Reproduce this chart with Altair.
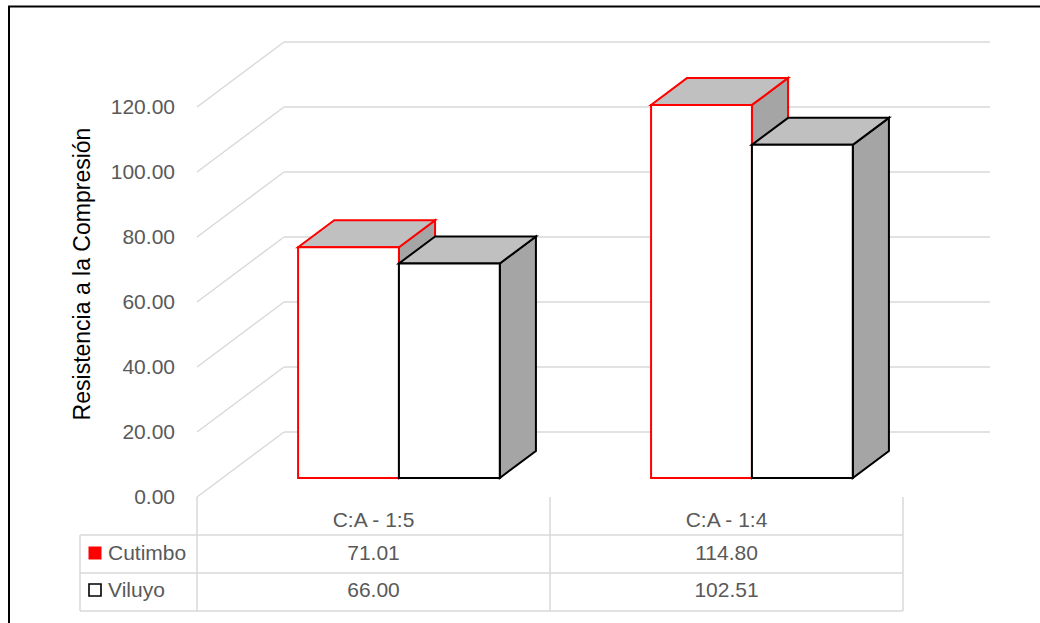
import altair as alt
import pandas as pd

# ---- data -------------------------------------------------------------
categories = ["C:A - 1:5", "C:A - 1:4"]
series = ["Cutimbo", "Viluyo"]
cutimbo = [71.01, 114.80]
viluyo = [66.00, 102.51]
tick_values = [0, 20, 40, 60, 80, 100, 120]
y_title = "Resistencia a la Compresión"

series_values = [cutimbo, viluyo]

# ---- styling ----------------------------------------------------------
FONT = "Liberation Sans"
TEXT_GREY = "#595959"
GRID_GREY = "#d9d9d9"
EDGE = ["#ff0000", "#000000"]          # outline colour per series
SWATCH_FILL = ["#ff0000", "#ffffff"]
TOP_FILL = "#c0c0c0"
SIDE_FILL = "#a5a5a5"

W, H = 1040, 623
X0_PX, PX_PER_CAT = 197, 353          # left of the floor, width of one category
Y0_PX, PX_PER_UNIT = 497, 3.25        # zero on the front plane, pixels per unit

# oblique projection of the 3-D box: depth 0 = front plane, depth 1 = back wall
DEPTH_X = 87 / PX_PER_CAT             # category units per unit of depth
DEPTH_Y = 20.0                        # value units per unit of depth
BAR_FRONT, BAR_BACK = 19 / 65, 46 / 65
GAP_WIDTH = 1.5
bar_w = 1 / (len(series) + GAP_WIDTH)


def proj(x, v, d):
    return x + DEPTH_X * d, v + DEPTH_Y * d


x_scale = alt.Scale(domain=[-X0_PX / PX_PER_CAT, (W - X0_PX) / PX_PER_CAT],
                    nice=False, zero=False)
y_scale = alt.Scale(domain=[-(H - Y0_PX) / PX_PER_UNIT, Y0_PX / PX_PER_UNIT],
                    nice=False, zero=False)


def X(f):
    return alt.X(f, type="quantitative", scale=x_scale, axis=None)


def Y(f):
    return alt.Y(f, type="quantitative", scale=y_scale, axis=None)


# ---- walls: gridlines on the back wall plus the receding side lines ----
grid_rows = []
for t in tick_values:
    fx, fy = proj(0, t, 0)
    bx, by = proj(0, t, 1)
    ex, ey = proj(len(categories), t, 1)
    grid_rows.append(dict(x=fx, y=fy, x2=bx, y2=by))
    grid_rows.append(dict(x=bx, y=by, x2=ex, y2=ey))
grid_df = pd.DataFrame(grid_rows)

grid = alt.Chart(grid_df).mark_rule(color=GRID_GREY, strokeWidth=1.5).encode(
    x=X("x"), x2="x2", y=Y("y"), y2="y2"
)

# value labels on the front plane, placed through the y scale
tick_df = pd.DataFrame(dict(t=tick_values,
                            label=[f"{t:.2f}" for t in tick_values]))
tick_text = alt.Chart(tick_df).mark_text(
    font=FONT, fontSize=21, color=TEXT_GREY, align="right", baseline="middle",
    dy=1
).encode(x=alt.value(175), y=Y("t"), text="label:N")

title_text = alt.Chart(pd.DataFrame(dict(label=[y_title]))).mark_text(
    font=FONT, fontSize=23, color="#000000", align="center",
    baseline="middle", angle=270
).encode(x=alt.value(83), y=alt.value(274), text="label:N")

# ---- bars: front, top and side faces -----------------------------------
bar_layers = []
for s, name in enumerate(series):
    front, top, side = [], [], []
    for i, v in enumerate(series_values[s]):
        xl = i + 0.5 - bar_w * len(series) / 2 + s * bar_w
        xr = xl + bar_w
        bid = f"{name}-{i}"
        x_l, y_b = proj(xl, 0, BAR_FRONT)
        x_r, y_t = proj(xr, v, BAR_FRONT)
        front.append(dict(x=x_l, x2=x_r, y=y_b, y2=y_t))
        for d in (BAR_FRONT, BAR_BACK):
            top.append(dict(bar=bid, y=v + DEPTH_Y * d,
                            x=xl + DEPTH_X * d, x2=xr + DEPTH_X * d))
            side.append(dict(bar=bid, x=xr + DEPTH_X * d,
                             y=v + DEPTH_Y * d, y2=DEPTH_Y * d))

    side_layer = alt.Chart(pd.DataFrame(side)).mark_area(
        orient="vertical", fill=SIDE_FILL, stroke=EDGE[s], strokeWidth=2,
        opacity=1
    ).encode(x=X("x"), y=Y("y"), y2="y2", detail="bar:N")

    top_layer = alt.Chart(pd.DataFrame(top)).mark_area(
        orient="horizontal", fill=TOP_FILL, stroke=EDGE[s], strokeWidth=2,
        opacity=1
    ).encode(y=Y("y"), x=X("x"), x2="x2", detail="bar:N")

    front_layer = alt.Chart(pd.DataFrame(front)).mark_rect(
        fill="#ffffff", stroke=EDGE[s], strokeWidth=2, opacity=1
    ).encode(x=X("x"), x2="x2", y=Y("y"), y2="y2")

    bar_layers += [side_layer, top_layer, front_layer]

# ---- data table under the plot -----------------------------------------
ROW_Y = [554, 591]
TABLE_TOP, TABLE_BOTTOM = 535, 611
LEGEND_LEFT = -117 / PX_PER_CAT

table_h = [
    alt.Chart(pd.DataFrame(dict(x=[LEGEND_LEFT], x2=[len(categories)])))
    .mark_rule(color=GRID_GREY, strokeWidth=1.5)
    .encode(x=X("x"), x2="x2", y=alt.value(py))
    for py in (TABLE_TOP, 573, TABLE_BOTTOM)
]
table_v = [
    alt.Chart(pd.DataFrame(dict(x=list(range(len(categories) + 1)))))
    .mark_rule(color=GRID_GREY, strokeWidth=1.5)
    .encode(x=X("x"), y=alt.value(Y0_PX), y2=alt.value(TABLE_BOTTOM)),
    alt.Chart(pd.DataFrame(dict(x=[LEGEND_LEFT])))
    .mark_rule(color=GRID_GREY, strokeWidth=1.5)
    .encode(x=X("x"), y=alt.value(TABLE_TOP), y2=alt.value(TABLE_BOTTOM)),
]

cat_df = pd.DataFrame(dict(x=[i + 0.5 for i in range(len(categories))],
                           label=categories))
cat_text = alt.Chart(cat_df).mark_text(
    font=FONT, fontSize=21, color=TEXT_GREY, align="center", baseline="middle"
).encode(x=X("x"), y=alt.value(521), text="label:N")

table_text = []
for s, name in enumerate(series):
    vals = pd.DataFrame(dict(x=[i + 0.5 for i in range(len(categories))],
                             label=[f"{v:.2f}" for v in series_values[s]]))
    table_text.append(
        alt.Chart(vals).mark_text(
            font=FONT, fontSize=21, color=TEXT_GREY, align="center",
            baseline="middle"
        ).encode(x=X("x"), y=alt.value(ROW_Y[s]), text="label:N")
    )
    name_df = pd.DataFrame(dict(label=[name]))
    table_text.append(
        alt.Chart(name_df).mark_text(
            font=FONT, fontSize=21, color=TEXT_GREY, align="left",
            baseline="middle"
        ).encode(x=alt.value(108), y=alt.value(ROW_Y[s]), text="label:N")
    )
    table_text.append(
        alt.Chart(name_df).mark_square(
            fill=SWATCH_FILL[s], stroke=EDGE[s],
            strokeWidth=0 if s == 0 else 1.6,
            size=169 if s == 0 else 144, opacity=1
        ).encode(x=alt.value(95), y=alt.value(ROW_Y[s] - 1))
    )

# ---- outer frame -------------------------------------------------------
frame = [
    alt.Chart(pd.DataFrame(dict(k=[0]))).mark_rule(color="#000000", strokeWidth=2)
    .encode(x=alt.value(8), x2=alt.value(W), y=alt.value(6.5)),
    alt.Chart(pd.DataFrame(dict(k=[0]))).mark_rule(color="#000000", strokeWidth=2)
    .encode(x=alt.value(9), y=alt.value(6), y2=alt.value(H)),
]

chart = alt.layer(
    grid, *table_h, *table_v, *bar_layers, tick_text, title_text, cat_text,
    *table_text, *frame
).properties(
    width=W, height=H, autosize=alt.AutoSizeParams(type="none"), padding=0,
    background="#ffffff"
).configure_view(strokeWidth=0)

chart.save("out.html", embed_options={"renderer": "svg", "actions": False})
